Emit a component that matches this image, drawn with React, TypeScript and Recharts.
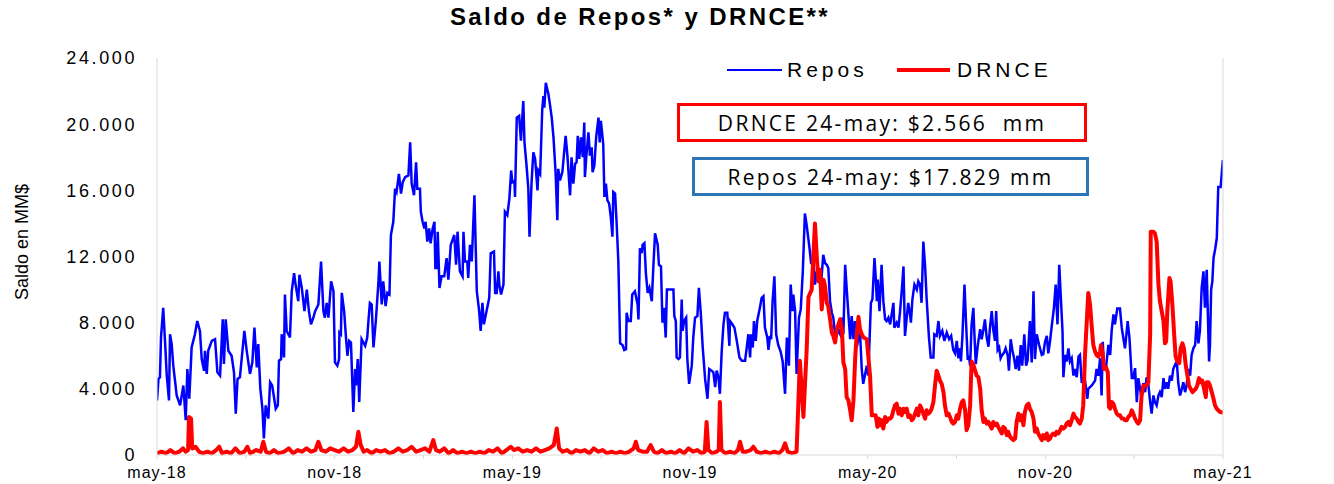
import { LineChart, Line, XAxis, YAxis } from "recharts";

// x = months since may-18, y = MM$
const repos: [number, number][] = [
  [0, 3300], [0.05, 4600], [0.1, 4700], [0.135, 7100], [0.21, 8900], [0.27, 6900], [0.33, 4800], [0.405, 3300],
  [0.44, 7300], [0.495, 6700], [0.55, 5400], [0.665, 3600], [0.78, 3000], [0.89, 4200], [0.97, 2100], [1.025, 5200],
  [1.09, 3400], [1.17, 6500], [1.28, 7300], [1.36, 8100], [1.45, 7500], [1.51, 5800], [1.59, 5100], [1.62, 6300],
  [1.68, 4900], [1.73, 6300], [1.85, 6900], [1.96, 7000], [2.04, 5000], [2.13, 4800], [2.22, 8200], [2.26, 5500],
  [2.32, 8200], [2.41, 6300], [2.52, 6000], [2.6, 5000], [2.66, 2500], [2.72, 4600], [2.8, 4700], [2.95, 7500],
  [3.03, 6300], [3.14, 4900], [3.22, 5600], [3.29, 7700], [3.37, 5300], [3.42, 6700], [3.49, 4000], [3.56, 2800],
  [3.61, 1000], [3.67, 3000], [3.76, 2200], [3.82, 4400], [3.89, 4200], [4.01, 2800], [4.08, 3000], [4.12, 5700],
  [4.19, 5800], [4.21, 7300], [4.29, 5900], [4.32, 9700], [4.38, 7500], [4.49, 7100], [4.55, 9900], [4.63, 11000],
  [4.68, 10300], [4.77, 9300], [4.81, 10900], [4.89, 10100], [4.98, 8700], [5.06, 10000], [5.13, 8700], [5.2, 7900],
  [5.28, 8300], [5.34, 8700], [5.45, 9100], [5.54, 11700], [5.62, 8700], [5.67, 8300], [5.73, 9200], [5.79, 8300],
  [5.88, 10500], [5.96, 9900], [6.01, 5600], [6.09, 5400], [6.15, 5800], [6.16, 7400], [6.21, 7300], [6.24, 9800],
  [6.32, 8700], [6.37, 7400], [6.43, 6000], [6.49, 6900], [6.55, 6800], [6.63, 2600], [6.69, 5200], [6.72, 4200],
  [6.78, 5800], [6.83, 3200], [6.91, 7000], [7.03, 6600], [7.1, 7100], [7.14, 8100], [7.19, 9200], [7.25, 9100],
  [7.31, 6500], [7.39, 8100], [7.48, 10500], [7.51, 11700], [7.59, 9100], [7.64, 10500], [7.72, 9000], [7.78, 9800],
  [7.85, 9700], [7.9, 13300], [7.98, 14100], [8.04, 16100], [8.09, 15900], [8.17, 17000], [8.24, 15800], [8.3, 16500],
  [8.38, 16800], [8.49, 16900], [8.55, 18900], [8.6, 16400], [8.68, 15700], [8.75, 17700], [8.79, 16100], [8.88, 16100],
  [8.91, 14700], [8.97, 14100], [9.03, 13700], [9.07, 14100], [9.13, 12900], [9.19, 13700], [9.24, 12800], [9.31, 13700],
  [9.37, 14100], [9.4, 11300], [9.45, 11300], [9.48, 13500], [9.54, 10100], [9.61, 10800], [9.7, 10800], [9.78, 11900],
  [9.84, 10600], [9.92, 12700], [10.04, 13300], [10.1, 11500], [10.15, 13500], [10.23, 11100], [10.32, 10800], [10.35, 13500],
  [10.4, 11700], [10.48, 11700], [10.51, 10700], [10.57, 12700], [10.63, 11700], [10.72, 15700], [10.8, 9900], [10.88, 8700],
  [10.93, 7500], [10.99, 9200], [11.04, 7900], [11.13, 8700], [11.22, 9500], [11.27, 12200], [11.38, 12300], [11.42, 9800],
  [11.47, 9800], [11.53, 11100], [11.56, 10300], [11.62, 9700], [11.7, 10300], [11.75, 14700], [11.83, 14500], [11.9, 15500],
  [11.96, 17200], [12.0, 16500], [12.07, 16600], [12.09, 15600], [12.15, 20400], [12.23, 20500], [12.29, 19000], [12.37, 21400],
  [12.41, 18900], [12.48, 17500], [12.54, 16100], [12.58, 13200], [12.65, 16500], [12.71, 18300], [12.77, 17900], [12.85, 16000],
  [12.88, 17200], [12.94, 17000], [13.01, 20900], [13.05, 21700], [13.08, 21000], [13.13, 22500], [13.22, 21800], [13.27, 21200],
  [13.33, 20400], [13.39, 19200], [13.46, 17100], [13.52, 14200], [13.55, 17300], [13.61, 16600], [13.69, 17100], [13.75, 18300],
  [13.8, 19300], [13.86, 18100], [13.95, 15700], [14.0, 18000], [14.06, 16400], [14.12, 17600], [14.17, 17700], [14.21, 19300],
  [14.26, 17900], [14.32, 19200], [14.38, 18000], [14.43, 20100], [14.45, 16800], [14.51, 18300], [14.57, 19500], [14.62, 18100],
  [14.68, 18600], [14.71, 17100], [14.77, 17500], [14.83, 19200], [14.91, 20400], [14.95, 18900], [14.99, 20200], [15.07, 18800],
  [15.11, 15600], [15.16, 16400], [15.21, 15400], [15.27, 15200], [15.33, 14300], [15.38, 13200], [15.41, 15900], [15.47, 15800],
  [15.52, 14100], [15.58, 11700], [15.64, 6750], [15.72, 6650], [15.78, 6350], [15.84, 6400], [15.86, 8600], [15.92, 8100],
  [16.0, 8100], [16.05, 9700], [16.14, 9900], [16.23, 9100], [16.26, 8200], [16.31, 12500], [16.37, 12200], [16.4, 12700],
  [16.46, 12800], [16.51, 11000], [16.57, 9800], [16.63, 10100], [16.71, 9300], [16.76, 11300], [16.82, 13400], [16.91, 12700],
  [16.95, 11500], [17.02, 11400], [17.07, 8000], [17.12, 8900], [17.18, 7100], [17.22, 10000], [17.33, 10000], [17.44, 10000],
  [17.47, 8400], [17.52, 8100], [17.55, 5900], [17.61, 5800], [17.66, 5900], [17.72, 9400], [17.75, 7500], [17.8, 8100],
  [17.87, 8300], [17.91, 5800], [17.97, 4300], [18.06, 5400], [18.11, 7100], [18.17, 8300], [18.25, 8400], [18.3, 10100],
  [18.36, 8700], [18.43, 6500], [18.51, 4600], [18.59, 3400], [18.65, 5200], [18.73, 5100], [18.79, 5000], [18.85, 4100],
  [18.9, 5100], [18.96, 4700], [19.01, 3700], [19.07, 6250], [19.13, 7900], [19.18, 8600], [19.26, 8600], [19.33, 6600],
  [19.35, 8100], [19.43, 7900], [19.5, 7700], [19.58, 6900], [19.67, 5900], [19.75, 5700], [19.86, 5700], [19.91, 6400],
  [19.97, 7300], [20.03, 5900], [20.06, 7300], [20.12, 6500], [20.16, 8100], [20.22, 6900], [20.27, 8100], [20.36, 8900],
  [20.42, 9500], [20.48, 9600], [20.53, 7700], [20.61, 7100], [20.65, 6350], [20.7, 7200], [20.74, 7000], [20.79, 9300],
  [20.85, 10800], [20.91, 7300], [20.98, 6650], [21.06, 6250], [21.13, 5650], [21.21, 3700], [21.27, 7100], [21.3, 6500],
  [21.34, 5400], [21.4, 10300], [21.46, 8700], [21.49, 9700], [21.55, 8700], [21.6, 4900], [21.68, 8300], [21.74, 8800],
  [21.81, 11100], [21.88, 14600], [21.94, 13900], [22.03, 12600], [22.09, 11600], [22.17, 11600], [22.22, 10300], [22.28, 11100],
  [22.31, 10500], [22.39, 11100], [22.45, 10900], [22.5, 12100], [22.56, 11600], [22.62, 11500], [22.67, 11300], [22.73, 9300],
  [22.79, 8600], [22.84, 8300], [22.9, 7300], [22.95, 7300], [23.01, 7500], [23.07, 7300], [23.12, 8300], [23.18, 7300],
  [23.24, 11500], [23.29, 10100], [23.35, 8500], [23.41, 7000], [23.46, 8400], [23.52, 7000], [23.57, 8100], [23.63, 6500],
  [23.74, 7500], [23.8, 5200], [23.85, 4300], [23.97, 5400], [24.02, 4800], [24.11, 9200], [24.16, 9400], [24.23, 11900],
  [24.27, 10800], [24.31, 9300], [24.34, 10600], [24.4, 8700], [24.47, 11500], [24.53, 9300], [24.59, 8200], [24.64, 8100],
  [24.7, 8300], [24.76, 7900], [24.81, 8500], [24.87, 9200], [24.9, 7700], [24.98, 8000], [25.04, 7700], [25.09, 8600],
  [25.15, 9900], [25.21, 11400], [25.26, 7200], [25.32, 8300], [25.37, 9200], [25.43, 8500], [25.46, 8000], [25.51, 9400],
  [25.58, 10300], [25.66, 10000], [25.71, 10500], [25.77, 10300], [25.82, 9200], [25.88, 12900], [25.94, 11400], [25.99, 9500],
  [26.07, 7100], [26.13, 5900], [26.22, 5900], [26.25, 7300], [26.33, 7200], [26.39, 8100], [26.44, 7200], [26.52, 7500],
  [26.59, 6900], [26.67, 7400], [26.75, 7000], [26.82, 7200], [26.89, 6350], [26.95, 6150], [27.01, 6900], [27.06, 5850],
  [27.12, 6450], [27.15, 5650], [27.2, 7200], [27.27, 10300], [27.32, 8100], [27.38, 5750], [27.42, 6000], [27.46, 5400],
  [27.51, 7900], [27.57, 8900], [27.6, 7500], [27.65, 5500], [27.72, 6650], [27.8, 7600], [27.85, 7000], [27.91, 7600],
  [27.96, 8200], [28.02, 7100], [28.08, 6550], [28.13, 7700], [28.19, 8700], [28.24, 7600], [28.3, 6900], [28.34, 8700],
  [28.39, 6350], [28.44, 6500], [28.49, 5850], [28.53, 6000], [28.61, 6200], [28.66, 6450], [28.73, 6000], [28.77, 5100],
  [28.83, 7000], [28.89, 6300], [28.94, 5900], [29.0, 5200], [29.06, 6000], [29.11, 5100], [29.17, 6650], [29.22, 5400],
  [29.29, 7300], [29.35, 5400], [29.4, 5700], [29.48, 8100], [29.54, 5600], [29.6, 9900], [29.65, 5800], [29.71, 7300],
  [29.79, 6650], [29.88, 6050], [29.93, 6100], [29.99, 6850], [30.05, 7200], [30.1, 6150], [30.16, 6900], [30.21, 7700],
  [30.29, 8900], [30.35, 10300], [30.41, 7900], [30.47, 11500], [30.53, 9300], [30.58, 7500], [30.61, 4700], [30.67, 6050],
  [30.72, 5650], [30.78, 6450], [30.83, 5650], [30.89, 5850], [30.95, 4800], [31.0, 5200], [31.06, 4700], [31.12, 5950],
  [31.17, 6050], [31.23, 4350], [31.28, 4600], [31.34, 4500], [31.42, 3400], [31.45, 4000], [31.51, 4100], [31.57, 4200],
  [31.68, 4500], [31.73, 5200], [31.79, 4800], [31.85, 5850], [31.9, 3600], [31.94, 6850], [31.98, 5300], [32.05, 5300],
  [32.13, 6650], [32.19, 6050], [32.24, 7500], [32.3, 8500], [32.35, 7900], [32.43, 8850], [32.52, 8850], [32.58, 7700],
  [32.64, 7000], [32.69, 6450], [32.75, 7500], [32.78, 8100], [32.84, 7100], [32.92, 4650], [32.97, 4650], [33.03, 5250],
  [33.09, 3200], [33.14, 4650], [33.2, 4000], [33.25, 3400], [33.31, 4350], [33.37, 3800], [33.42, 4700], [33.48, 4250],
  [33.54, 3200], [33.59, 2500], [33.65, 3600], [33.7, 3200], [33.76, 3000], [33.82, 3600], [33.87, 3800], [33.93, 3500],
  [33.99, 4650], [34.04, 4000], [34.1, 4400], [34.15, 4000], [34.21, 4800], [34.27, 4500], [34.32, 5200], [34.38, 5450],
  [34.44, 5650], [34.49, 4350], [34.55, 3600], [34.61, 4000], [34.66, 4400], [34.72, 3800], [34.77, 4200], [34.83, 5200],
  [34.89, 4800], [34.94, 6050], [35.0, 6450], [35.06, 6650], [35.11, 8100], [35.17, 6750], [35.22, 7500], [35.28, 10100],
  [35.34, 11100], [35.39, 8900], [35.45, 11200], [35.48, 9100], [35.53, 5650], [35.56, 6650], [35.6, 10000], [35.64, 10500],
  [35.68, 11900], [35.74, 12500], [35.79, 13100], [35.84, 16200], [35.92, 16200], [35.99, 17700], [36, 17829],
];

const drnce: [number, number][] = [
  [0, 100], [0.15, 200], [0.3, 100], [0.45, 300], [0.6, 100], [0.75, 200], [0.88, 400], [0.97, 200], [1.05, 300],
  [1.08, 2300], [1.15, 2200], [1.19, 400], [1.3, 500], [1.42, 200], [1.55, 100], [1.7, 200], [1.85, 100], [2.0, 300],
  [2.1, 500], [2.2, 100], [2.35, 200], [2.5, 100], [2.65, 400], [2.8, 100], [2.95, 200], [3.05, 500], [3.15, 100],
  [3.35, 300], [3.5, 200], [3.59, 800], [3.68, 200], [3.8, 100], [3.95, 300], [4.1, 100], [4.3, 200], [4.45, 400],
  [4.6, 100], [4.75, 300], [4.9, 200], [5.05, 400], [5.2, 200], [5.35, 300], [5.45, 800], [5.55, 300], [5.7, 200],
  [5.85, 400], [6.0, 300], [6.15, 200], [6.3, 400], [6.45, 200], [6.6, 300], [6.72, 500], [6.8, 1400], [6.88, 600],
  [6.98, 200], [7.1, 300], [7.25, 100], [7.4, 300], [7.55, 200], [7.7, 300], [7.85, 100], [8.0, 200], [8.15, 400],
  [8.3, 200], [8.45, 300], [8.6, 500], [8.75, 200], [8.9, 300], [9.05, 400], [9.2, 200], [9.33, 900], [9.42, 300],
  [9.55, 200], [9.7, 400], [9.85, 100], [10.0, 300], [10.15, 100], [10.3, 200], [10.45, 100], [10.6, 200], [10.75, 100],
  [10.9, 200], [11.05, 100], [11.2, 300], [11.35, 200], [11.5, 400], [11.65, 100], [11.8, 300], [11.95, 500], [12.05, 300],
  [12.2, 400], [12.35, 200], [12.5, 300], [12.65, 200], [12.8, 400], [12.95, 200], [13.1, 300], [13.25, 400], [13.4, 600],
  [13.5, 1600], [13.58, 400], [13.7, 200], [13.85, 300], [14.0, 100], [14.15, 300], [14.3, 200], [14.45, 300], [14.6, 100],
  [14.75, 400], [14.9, 200], [15.05, 300], [15.2, 100], [15.35, 200], [15.5, 100], [15.65, 200], [15.8, 100], [15.95, 200],
  [16.1, 400], [16.17, 800], [16.25, 300], [16.4, 200], [16.55, 200], [16.67, 600], [16.78, 200], [16.9, 100], [17.05, 300],
  [17.2, 100], [17.35, 200], [17.5, 100], [17.65, 300], [17.8, 100], [17.95, 400], [18.1, 200], [18.25, 300], [18.4, 100],
  [18.5, 200], [18.56, 2000], [18.62, 300], [18.75, 100], [18.9, 200], [18.97, 300], [19.01, 3200], [19.06, 300],
  [19.2, 100], [19.35, 200], [19.5, 100], [19.62, 300], [19.69, 800], [19.78, 200], [19.9, 200], [20.05, 300], [20.14, 500],
  [20.25, 200], [20.4, 100], [20.55, 200], [20.7, 100], [20.85, 200], [21.0, 100], [21.12, 300], [21.21, 700], [21.3, 200],
  [21.45, 100], [21.6, 200], [21.71, 5700], [21.83, 2300], [21.94, 6350], [22.0, 9550], [22.11, 10000], [22.22, 14000],
  [22.28, 12000], [22.34, 10500], [22.39, 11200], [22.45, 8800], [22.51, 10600], [22.56, 10200], [22.62, 9200], [22.67, 9000],
  [22.73, 8200], [22.79, 7400], [22.84, 7200], [22.9, 6800], [22.96, 7600], [23.07, 8200], [23.13, 7600], [23.18, 5600],
  [23.24, 5200], [23.29, 3500], [23.35, 3300], [23.41, 2700], [23.46, 2100], [23.52, 3300], [23.58, 5900], [23.63, 7300],
  [23.69, 8350], [23.74, 7600], [23.8, 7300], [23.86, 7100], [23.97, 7000], [24.02, 6000], [24.08, 4800], [24.14, 2400],
  [24.19, 2400], [24.27, 2400], [24.33, 1700], [24.38, 2200], [24.42, 1800], [24.47, 2100], [24.53, 1600], [24.59, 2300],
  [24.64, 2000], [24.7, 2200], [24.76, 2200], [24.81, 2300], [24.87, 2700], [24.92, 3000], [24.98, 3100], [25.04, 2500],
  [25.09, 2800], [25.15, 2400], [25.21, 2800], [25.26, 2600], [25.32, 2800], [25.37, 2300], [25.43, 2400], [25.49, 2100],
  [25.54, 2200], [25.6, 2500], [25.66, 2800], [25.71, 2400], [25.77, 3000], [25.82, 2800], [25.88, 2500], [25.94, 2200],
  [25.99, 2700], [26.05, 2500], [26.11, 2600], [26.16, 2800], [26.22, 3200], [26.28, 4300], [26.33, 5100], [26.39, 4800],
  [26.44, 4500], [26.5, 4300], [26.56, 3800], [26.61, 3000], [26.67, 2400], [26.73, 2500], [26.78, 2300], [26.84, 2000],
  [26.89, 1900], [26.95, 2000], [27.01, 2400], [27.06, 2200], [27.12, 2800], [27.18, 3200], [27.23, 3300], [27.29, 2700],
  [27.34, 1500], [27.4, 1800], [27.46, 3000], [27.51, 5650], [27.57, 5450], [27.63, 5100], [27.68, 4800], [27.74, 4700],
  [27.8, 4000], [27.85, 2700], [27.91, 2000], [27.96, 2200], [28.02, 1900], [28.08, 2000], [28.13, 1800], [28.19, 1600],
  [28.24, 2000], [28.3, 1800], [28.36, 1900], [28.41, 1700], [28.47, 1500], [28.53, 1300], [28.58, 1700], [28.64, 1600],
  [28.7, 1200], [28.75, 1400], [28.81, 1100], [28.86, 1000], [28.92, 900], [28.98, 1000], [29.03, 2000], [29.09, 2500],
  [29.15, 2100], [29.2, 2400], [29.26, 1800], [29.31, 2600], [29.37, 3000], [29.43, 3100], [29.48, 2800], [29.54, 2600],
  [29.6, 2200], [29.65, 1400], [29.71, 1600], [29.76, 1300], [29.82, 1100], [29.88, 900], [29.93, 1200], [29.99, 1000],
  [30.05, 1300], [30.1, 900], [30.16, 1000], [30.21, 1200], [30.27, 1300], [30.33, 1200], [30.38, 1400], [30.44, 1300],
  [30.5, 1500], [30.55, 1700], [30.61, 1600], [30.67, 1700], [30.72, 1900], [30.78, 2000], [30.83, 1800], [30.89, 2100],
  [30.95, 2500], [31.0, 2300], [31.06, 2200], [31.12, 2000], [31.17, 1900], [31.23, 2200], [31.28, 3000], [31.34, 6050],
  [31.4, 8100], [31.45, 9800], [31.51, 9100], [31.57, 7700], [31.62, 6650], [31.68, 6250], [31.73, 6050], [31.79, 5950],
  [31.85, 6250], [31.88, 6650], [31.94, 6050], [31.98, 5200], [32.05, 5300], [32.11, 5000], [32.15, 2900], [32.19, 2800],
  [32.24, 3200], [32.3, 3100], [32.35, 2800], [32.41, 2500], [32.47, 2400], [32.52, 2400], [32.58, 2200], [32.64, 2200],
  [32.69, 2100], [32.75, 2100], [32.8, 2300], [32.86, 2400], [32.92, 2700], [32.97, 2500], [33.03, 2200], [33.09, 2000],
  [33.14, 1900], [33.2, 2100], [33.25, 3600], [33.31, 4200], [33.42, 4200], [33.48, 4400], [33.54, 7300], [33.56, 13500],
  [33.65, 13500], [33.7, 13400], [33.76, 12900], [33.82, 10300], [33.87, 9300], [33.93, 8700], [33.99, 8100], [34.04, 6750],
  [34.08, 6850], [34.12, 8700], [34.19, 10700], [34.23, 10500], [34.29, 9100], [34.35, 7300], [34.4, 5950], [34.46, 5650],
  [34.52, 5550], [34.57, 6450], [34.63, 6750], [34.68, 6450], [34.74, 5450], [34.8, 4800], [34.85, 4200], [34.91, 4000],
  [34.97, 3800], [35.02, 3900], [35.08, 4000], [35.13, 4200], [35.19, 4650], [35.25, 4400], [35.3, 4500], [35.36, 4000],
  [35.42, 3500], [35.45, 4400], [35.51, 4400], [35.56, 4200], [35.62, 3800], [35.68, 3400], [35.73, 3000], [35.79, 2800],
  [35.84, 2700], [35.9, 2600], [36, 2566],
];

const xTicks = [0, 3, 6, 9, 12, 15, 18, 21, 24, 27, 30, 33, 36];
const xTickLabels = ["may-18", "", "nov-18", "", "may-19", "", "nov-19", "", "may-20", "", "nov-20", "", "may-21"];
const yTicks = [0, 4000, 8000, 12000, 16000, 20000, 24000];

const reposData = repos.map(([t, v]) => ({ t, v }));
const drnceData = drnce.map(([t, v]) => ({ t, v }));

const fmtY = (v: number) => (v === 0 ? "0" : `${v / 1000}.000`);
const fmtX = (v: number) => xTickLabels[xTicks.indexOf(v)] ?? "";

const tickFont = { fontSize: 18, fill: "#000", fontFamily: "Liberation Sans, Arial", letterSpacing: 2.6 };
const axisGray = "#d9d9d9";
const legText = { position: "absolute" as const, top: 58, fontSize: 21, letterSpacing: 4, lineHeight: "24px", color: "#000", fontFamily: "Liberation Sans, Arial" };
const boxText = { fontFamily: "Open Sans, sans-serif", fontSize: 21, letterSpacing: 2.3, color: "#000", whiteSpace: "pre" as const };

export default function App() {
  return (
    <div style={{ position: "absolute", left: 0, top: 0, width: 1334, height: 484, background: "#fff" }}>
      <div style={{ position: "absolute", left: 0, width: 1280, top: 3, textAlign: "center", fontFamily: "Liberation Sans, Arial", fontWeight: "bold", fontSize: 24, letterSpacing: 2.4 }}>
        Saldo de Repos* y DRNCE**
      </div>
      <div style={{ position: "absolute", left: 22, top: 242, transform: "translate(-50%, -50%) rotate(-90deg)", whiteSpace: "nowrap", fontFamily: "Liberation Sans Narrow, Liberation Sans, Arial", fontSize: 18, color: "#000" }}>
        Saldo en MM$
      </div>
      <LineChart width={1334} height={484} margin={{ top: 58, right: 0, bottom: 0, left: 0 }}>
        <XAxis
          type="number"
          dataKey="t"
          domain={[0, 36]}
          ticks={xTicks}
          tickFormatter={fmtX}
          interval={0}
          height={29}
          stroke={axisGray}
          tickSize={4}
          tickMargin={8}
          tick={{ fontSize: 16, fill: "#000", fontFamily: "Liberation Sans, Arial", letterSpacing: 1 }}
          allowDataOverflow
        />
        <YAxis
          yAxisId="left"
          domain={[0, 24000]}
          ticks={yTicks}
          tickFormatter={fmtY}
          width={157}
          stroke={axisGray}
          tickLine={false}
          tickSize={0}
          tickMargin={20}
          tick={tickFont}
        />
        <YAxis
          yAxisId="right"
          orientation="right"
          domain={[0, 24000]}
          ticks={yTicks}
          tickFormatter={fmtY}
          width={111}
          stroke={axisGray}
          tickLine={false}
          tickSize={0}
          tickMargin={24}
          tick={tickFont}
        />
        <Line yAxisId="left" data={reposData} dataKey="v" name="Repos" type="linear" dot={false} stroke="#0000ff" strokeWidth={2.5} isAnimationActive={false} />
        <Line yAxisId="left" data={drnceData} dataKey="v" name="DRNCE" type="linear" dot={false} stroke="#ff0000" strokeWidth={4} strokeLinejoin="round" isAnimationActive={false} />
      </LineChart>
      {/* legend */}
      <div style={{ position: "absolute", left: 727, top: 69, width: 55, height: 2, background: "#0000ff" }} />
      <div style={{ ...legText, left: 787 }}>Repos</div>
      <div style={{ position: "absolute", left: 897, top: 68, width: 53, height: 4, background: "#ff0000" }} />
      <div style={{ ...legText, left: 957 }}>DRNCE</div>
      {/* annotations */}
      <div style={{ position: "absolute", left: 677, top: 103, width: 404, height: 33, border: "3px solid #ff0000", display: "flex", alignItems: "center", justifyContent: "center", background: "#fff", ...boxText }}>
        DRNCE 24-may: $2.566  mm
      </div>
      <div style={{ position: "absolute", left: 692, top: 157, width: 391, height: 33, border: "3px solid #2e75b6", display: "flex", alignItems: "center", justifyContent: "center", background: "#fff", ...boxText }}>
        Repos 24-may: $17.829 mm
      </div>
    </div>
  );
}
